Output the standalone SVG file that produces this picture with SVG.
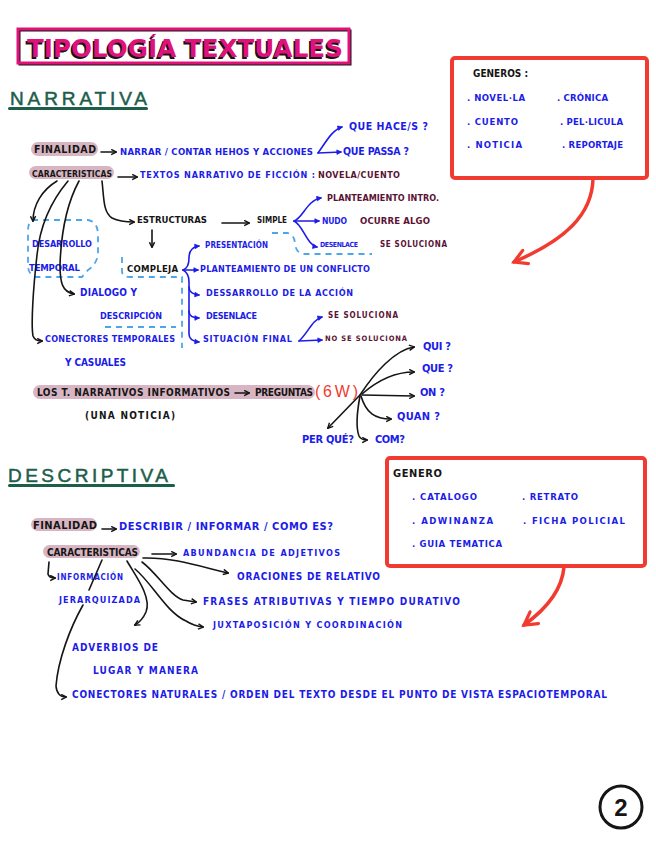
<svg xmlns="http://www.w3.org/2000/svg" width="656" height="848" viewBox="0 0 656 848">
<style>
.t{font-family:"Liberation Sans Narrow","DejaVu Sans Condensed","Liberation Sans",sans-serif;font-weight:bold}
.b{fill:#1c1ce8}
.m{fill:#5b1234}
.k{fill:#151515}
.g{fill:#1d5e4b;font-family:"Liberation Sans","DejaVu Sans",sans-serif;font-weight:normal;stroke:#1d5e4b;stroke-width:0.5}
.hl{fill:#d8b5c2}
.ck{fill:none;stroke:#151515;stroke-width:1.6;stroke-linecap:round}
.cb{fill:none;stroke:#1c1ce8;stroke-width:1.6;stroke-linecap:round}
.cr{fill:none;stroke:#f23b30;stroke-width:3.5;stroke-linecap:round}
.dash{fill:none;stroke:#4da6ea;stroke-width:1.8;stroke-dasharray:6 5}
.box{fill:#fff;stroke:#f23b30;stroke-width:4}
</style>
<defs>
<marker id="ak" viewBox="0 0 8 8" refX="6.5" refY="4" markerWidth="7" markerHeight="7" markerUnits="userSpaceOnUse" orient="auto"><path d="M1,1 L7,4 L1,7" fill="none" stroke="#151515" stroke-width="1.6"/></marker>
<marker id="ab" viewBox="0 0 8 8" refX="6.5" refY="4" markerWidth="6" markerHeight="6" markerUnits="userSpaceOnUse" orient="auto"><path d="M1,1 L7,4 L1,7 Z" fill="#1c1ce8" stroke="#1c1ce8" stroke-width="1"/></marker>
<marker id="ar" viewBox="0 0 10 10" refX="8" refY="5" markerWidth="18" markerHeight="18" markerUnits="userSpaceOnUse" orient="auto"><path d="M1,1 L8,5 L1,9" fill="none" stroke="#f23b30" stroke-width="1.8" stroke-linecap="round"/></marker>
</defs>
<rect width="656" height="848" fill="#fff"/>

<g id="title">
<rect x="19.5" y="30.5" width="331" height="34" fill="none" stroke="#151515" stroke-width="2"/>
<rect x="18" y="29" width="331" height="34" fill="none" stroke="#e0127a" stroke-width="3"/>
<text class="t" x="25.5" y="58.5" font-size="25" fill="#151515" textLength="316" lengthAdjust="spacingAndGlyphs">TIPOLOGÍA TEXTUALES</text>
<text class="t" x="27" y="57" font-size="25" fill="#e0127a" textLength="316" lengthAdjust="spacingAndGlyphs">TIPOLOGÍA TEXTUALES</text>
</g>

<g id="narrativa">
<text class="g" x="10" y="105" font-size="19" textLength="137" lengthAdjust="spacing">NARRATIVA</text>
<rect x="8" y="107" width="140" height="3" rx="1.5" fill="#1d5e4b"/>
</g>

<g id="generos">
<rect class="box" x="452" y="58" width="195" height="120" rx="3"/>
<text class="t k" x="473" y="77" font-size="10" textLength="55">GENEROS :</text>
<text class="t b" x="467" y="101" font-size="9.5" textLength="58">. NOVEL·LA</text>
<text class="t b" x="557" y="101" font-size="9.5" textLength="51">. CRÓNICA</text>
<text class="t b" x="467" y="125" font-size="9.5" textLength="51">. CUENTO</text>
<text class="t b" x="560" y="125" font-size="9.5" textLength="63">. PEL·LICULA</text>
<text class="t b" x="467" y="148" font-size="9.5" textLength="55">. NOTICIA</text>
<text class="t b" x="562" y="148" font-size="9.5" textLength="61">. REPORTAJE</text>
</g>

<g id="finalidad-n">
<rect class="hl" x="31" y="142" width="67" height="14" rx="7"/>
<text class="t k" x="34" y="153" font-size="10.5" textLength="62">FINALIDAD</text>
<text class="t b" x="120" y="155" font-size="9.5" textLength="193">NARRAR / CONTAR HEHOS Y ACCIONES</text>
<text class="t b" x="349" y="130" font-size="10.5" textLength="79">QUE HACE/S ?</text>
<text class="t b" x="343" y="155" font-size="10.5" textLength="66">QUE PASSA ?</text>
</g>

<g id="caracteristicas-n">
<rect class="hl" x="29" y="166" width="85" height="13" rx="6.5"/>
<text class="t k" x="32" y="177" font-size="8.5" textLength="80">CARACTERISTICAS</text>
<text class="t b" x="140" y="178" font-size="9" textLength="175">TEXTOS NARRATIVO DE FICCIÓN :</text>
<text class="t m" x="318" y="178" font-size="9" textLength="82">NOVELA/CUENTO</text>
</g>

<g id="estructuras">
<text class="t k" x="137" y="223" font-size="9.5" textLength="70">ESTRUCTURAS</text>
<text class="t k" x="257" y="223" font-size="8" textLength="30">SIMPLE</text>
<text class="t m" x="327" y="201" font-size="9" textLength="112">PLANTEAMIENTO INTRO.</text>
<text class="t b" x="322" y="224" font-size="8.5" textLength="25">NUDO</text>
<text class="t m" x="360" y="224" font-size="9.5" textLength="70">OCURRE ALGO</text>
<text class="t b" x="320" y="247" font-size="7" textLength="38">DESENLACE</text>
<text class="t m" x="380" y="247" font-size="8" textLength="67">SE SOLUCIONA</text>
</g>

<g id="desarrollo">
<text class="t b" x="32" y="247" font-size="9" textLength="60">DESARROLLO</text>
<text class="t b" x="29" y="271" font-size="9.5" textLength="51">TEMPORAL</text>
</g>

<g id="compleja">
<text class="t k" x="127" y="272" font-size="9.5" textLength="51">COMPLEJA</text>
<text class="t b" x="205" y="248" font-size="8" textLength="63">PRESENTACIÓN</text>
<text class="t b" x="200" y="272" font-size="9" textLength="170">PLANTEAMIENTO DE UN CONFLICTO</text>
<text class="t b" x="206" y="296" font-size="9" textLength="147">DESSARROLLO DE LA ACCIÓN</text>
<text class="t b" x="206" y="319" font-size="9" textLength="51">DESENLACE</text>
<text class="t b" x="203" y="342" font-size="9" textLength="89">SITUACIÓN FINAL</text>
<text class="t m" x="328" y="318" font-size="8" textLength="70">SE SOLUCIONA</text>
<text class="t m" x="325" y="341" font-size="7.5" textLength="82">NO SE SOLUCIONA</text>
</g>

<g id="dialogo">
<text class="t b" x="80" y="296" font-size="10" textLength="57">DIALOGO Y</text>
<text class="t b" x="100" y="319" font-size="9" textLength="62">DESCRIPCIÓN</text>
</g>

<g id="conectores-n">
<text class="t b" x="45" y="342" font-size="9" textLength="130">CONECTORES TEMPORALES</text>
<text class="t b" x="65" y="366" font-size="10" textLength="61">Y CASUALES</text>
</g>

<g id="informativos">
<rect class="hl" x="33" y="385" width="282" height="14" rx="7"/>
<text class="t k" x="37" y="396" font-size="10" textLength="193">LOS T. NARRATIVOS  INFORMATIVOS</text>
<text class="t k" x="255" y="396" font-size="10" textLength="58">PREGUNTAS</text>
<text x="315" y="397" font-family="Liberation Sans, sans-serif" font-size="16" fill="#f23b30" textLength="43" lengthAdjust="spacing">(6W)</text>
<text class="t k" x="85" y="419" font-size="10" textLength="90">(UNA NOTICIA)</text>
</g>

<g id="preguntas">
<text class="t b" x="423" y="350" font-size="11" textLength="28">QUI ?</text>
<text class="t b" x="422" y="372" font-size="11" textLength="31">QUE ?</text>
<text class="t b" x="420" y="396" font-size="11" textLength="25">ON ?</text>
<text class="t b" x="397" y="420" font-size="11" textLength="43">QUAN ?</text>
<text class="t b" x="375" y="443" font-size="11" textLength="30">COM?</text>
<text class="t b" x="302" y="443" font-size="11" textLength="52">PER QUÉ?</text>
</g>

<g id="descriptiva">
<text class="g" x="8" y="482" font-size="19" textLength="160" lengthAdjust="spacing">DESCRIPTIVA</text>
<rect x="8" y="484" width="167" height="3" rx="1.5" fill="#1d5e4b"/>
</g>

<g id="genero">
<rect class="box" x="387" y="458" width="258" height="108" rx="3"/>
<text class="t k" x="393" y="477" font-size="11" textLength="49">GENERO</text>
<text class="t b" x="412" y="500" font-size="9.5" textLength="65">. CATALOGO</text>
<text class="t b" x="522" y="500" font-size="9.5" textLength="56">. RETRATO</text>
<text class="t b" x="412" y="524" font-size="9.5" textLength="81">. ADWINANZA</text>
<text class="t b" x="523" y="524" font-size="9.5" textLength="102">. FICHA POLICIAL</text>
<text class="t b" x="412" y="547" font-size="9.5" textLength="90">. GUIA TEMATICA</text>
</g>

<g id="finalidad-d">
<rect class="hl" x="31" y="518" width="66" height="13" rx="6.5"/>
<text class="t k" x="33" y="529" font-size="11" textLength="64">FINALIDAD</text>
<text class="t b" x="119" y="530" font-size="11" textLength="214">DESCRIBIR / INFORMAR / COMO ES?</text>
</g>

<g id="caracteristicas-d">
<rect class="hl" x="43" y="545" width="97" height="13" rx="6.5"/>
<text class="t k" x="47" y="556" font-size="10" textLength="91">CARACTERISTICAS</text>
<text class="t b" x="183" y="556" font-size="9" textLength="157">ABUNDANCIA DE ADJETIVOS</text>
<text class="t b" x="237" y="580" font-size="10" textLength="143">ORACIONES DE RELATIVO</text>
<text class="t b" x="57" y="580" font-size="8" textLength="66">INFORMACIÓN</text>
<text class="t b" x="59" y="603" font-size="9" textLength="81">JERARQUIZADA</text>
<text class="t b" x="203" y="605" font-size="10" textLength="257">FRASES ATRIBUTIVAS Y TIEMPO DURATIVO</text>
<text class="t b" x="213" y="628" font-size="9" textLength="189">JUXTAPOSICIÓN Y COORDINACIÓN</text>
<text class="t b" x="72" y="651" font-size="10" textLength="86">ADVERBIOS DE</text>
<text class="t b" x="93" y="674" font-size="10" textLength="105">LUGAR Y MANERA</text>
<text class="t b" x="72" y="698" font-size="10" textLength="535">CONECTORES NATURALES / ORDEN DEL TEXTO DESDE EL  PUNTO DE VISTA ESPACIOTEMPORAL</text>
</g>

<g id="page-number">
<circle cx="621" cy="807" r="21" fill="none" stroke="#151515" stroke-width="3"/>
<text x="621" y="816" text-anchor="middle" font-family="Liberation Sans, sans-serif" font-weight="bold" font-size="24" fill="#151515">2</text>
</g>

<g id="connectors">
<path class="dash" d="M32,220 L88,220 Q98,222 98,235 L98,255 Q96,265 88,270 L82,277 L36,277 Q28,275 28,265 L28,232 Q28,222 32,220 Z"/>
<path class="dash" d="M122,257 L122,272 Q123,277 130,277 L182,277 L182,348"/>
<path class="dash" d="M105,327 L176,327"/>
<path class="dash" d="M272,233 L288,233 Q295,235 295,245 Q297,254 305,254 L372,254"/>
<path class="ck" d="M101,152 L116,152" marker-end="url(#ak)"/>
<path class="ck" d="M118,177 L137,177" marker-end="url(#ak)"/>
<path class="ck" d="M57,181 C42,190 33,205 33,221" marker-end="url(#ak)"/>
<path class="ck" d="M68,181 C52,200 40,225 37,255 C33,290 31,325 33,336 Q35,341 42,341" marker-end="url(#ak)"/>
<path class="ck" d="M79,181 C66,205 61,235 60,265 C60,282 62,292 74,294" marker-end="url(#ak)"/>
<path class="ck" d="M102,181 C104,198 103,212 112,218 Q120,222 134,222" marker-end="url(#ak)"/>
<path class="ck" d="M222,223 L249,223" marker-end="url(#ak)"/>
<path class="ck" d="M152,230 L152,247" marker-end="url(#ak)"/>
<path class="ck" d="M235,393 L249,393" marker-end="url(#ak)"/>
<path class="ck" d="M360,395 L328,428" marker-end="url(#ak)"/>
<path class="ck" d="M360,395 C375,372 395,350 414,347" marker-end="url(#ak)"/>
<path class="ck" d="M362,394 C378,380 395,372 414,372" marker-end="url(#ak)"/>
<path class="ck" d="M362,395 L414,396" marker-end="url(#ak)"/>
<path class="ck" d="M361,396 C366,413 375,419 391,419" marker-end="url(#ak)"/>
<path class="ck" d="M360,396 C357,412 356,428 359,436 Q361,440 367,440" marker-end="url(#ak)"/>
<path class="cb" d="M318,153 C326,142 332,130 342,127" marker-end="url(#ab)"/>
<path class="cb" d="M318,153 L341,152" marker-end="url(#ab)"/>
<path class="cb" d="M294,221 C303,218 307,200 321,198" marker-end="url(#ab)"/>
<path class="cb" d="M294,221 L319,221" marker-end="url(#ab)"/>
<path class="cb" d="M294,221 C303,225 307,245 317,247" marker-end="url(#ab)"/>
<path class="cb" d="M183,270 Q189,268 189,258 Q189,247 199,246" marker-end="url(#ab)"/>
<path class="cb" d="M183,270 L198,270" marker-end="url(#ab)"/>
<path class="cb" d="M183,270 Q189,273 189,282 L189,334 Q189,341 199,342" marker-end="url(#ab)"/>
<path class="cb" d="M189,287 Q189,294 199,295" marker-end="url(#ab)"/>
<path class="cb" d="M189,311 Q189,318 199,318" marker-end="url(#ab)"/>
<path class="cb" d="M299,341 C308,333 312,320 322,317" marker-end="url(#ab)"/>
<path class="cb" d="M299,341 L322,340" marker-end="url(#ab)"/>
<path class="ck" d="M102,529 L116,529" marker-end="url(#ak)"/>
<path class="ck" d="M152,554 L176,554" marker-end="url(#ak)"/>
<path class="ck" d="M143,558 C175,557 205,568 228,573" marker-end="url(#ak)"/>
<path class="ck" d="M142,562 C157,573 170,596 183,600 L196,602" marker-end="url(#ak)"/>
<path class="ck" d="M135,569 C152,583 166,612 186,621 Q194,626 203,627" marker-end="url(#ak)"/>
<path class="ck" d="M127,561 C135,575 152,597 146,612 Q142,621 135,625" marker-end="url(#ak)"/>
<path class="ck" d="M49,562 L48,574 Q49,578 55,578" marker-end="url(#ak)"/>
<path class="ck" d="M102,560 L89,590"/>
<path class="ck" d="M83,605 C70,628 58,660 56,686 Q57,697 66,697" marker-end="url(#ak)"/>
<path class="cr" d="M593,179 C592,215 565,240 514,262" marker-end="url(#ar)"/>
<path class="cr" d="M564,567 C562,590 545,610 524,625" marker-end="url(#ar)"/>
</g>
</svg>
